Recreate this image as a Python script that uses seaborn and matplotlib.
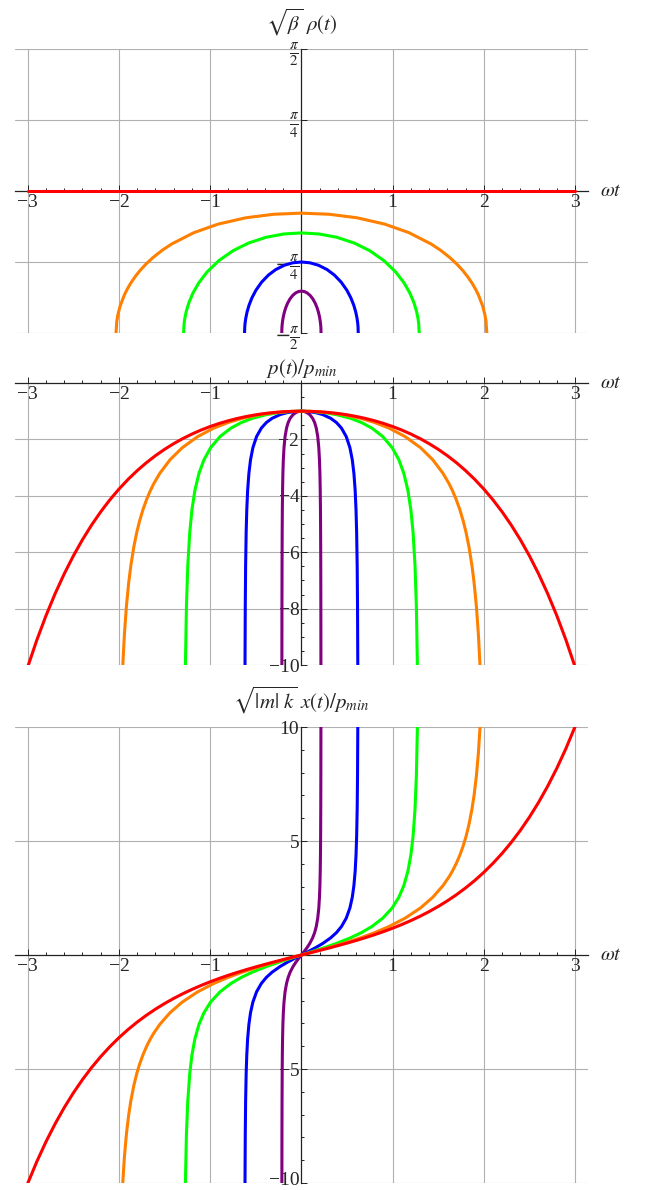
import numpy as np
import pandas as pd
import matplotlib
matplotlib.use("Agg")
import matplotlib.pyplot as plt
import matplotlib.transforms as mtransforms
from matplotlib.ticker import FixedLocator, FixedFormatter, MultipleLocator, NullLocator
import seaborn as sns

# drawing order: last one ends up on top
curves = ["purple", "blue", "green", "orange", "red"]
colors = {"purple": "#800080", "blue": "#0000ff", "green": "#00ff00",
          "orange": "#ff8000", "red": "#ff0000"}

x_ticks = [-3, -2, -1, 1, 2, 3]
x_labels = ["\u22123", "\u22122", "\u22121", "1", "2", "3"]

# right halves (t >= 0) of p(t)/p_min and sqrt(|m|k) x(t)/p_min
t_red = [0.0, 0.1, 0.2, 0.3, 0.4, 0.5, 0.6, 0.7, 0.8, 0.9, 1.0, 1.1, 1.2, 1.3, 1.4, 1.5,
         1.6, 1.7, 1.8, 1.9, 2.0, 2.1, 2.2, 2.3, 2.4, 2.5, 2.6, 2.7, 2.8, 2.9, 3.0]
p_red = [-1.0, -1.0050, -1.0201, -1.0453, -1.0811, -1.1276, -1.1855, -1.2552, -1.3374,
         -1.4331, -1.5431, -1.6685, -1.8107, -1.9709, -2.1509, -2.3524, -2.5775, -2.8283,
         -3.1075, -3.4177, -3.7622, -4.1443, -4.5679, -5.0372, -5.5569, -6.1323, -6.7690,
         -7.4735, -8.2527, -9.1146, -10.0677]
x_red = [0.0, 0.1002, 0.2013, 0.3045, 0.4108, 0.5211, 0.6367, 0.7586, 0.8881, 1.0265,
         1.1752, 1.3356, 1.5095, 1.6984, 1.9043, 2.1293, 2.3756, 2.6456, 2.9422, 3.2682,
         3.6269, 4.0219, 4.4571, 4.9370, 5.4662, 6.0502, 6.6947, 7.4063, 8.1919, 9.0595,
         10.0179]

t_orange = [0.0, 0.1422, 0.2908, 0.4540, 0.6457, 0.8027, 0.9590, 1.1361, 1.3059, 1.4398,
            1.5520, 1.6186, 1.6553, 1.6949, 1.7377, 1.7748, 1.8045, 1.8360, 1.8696,
            1.8933, 1.9182, 1.9403, 1.9593]
p_orange = [-1.0, -1.0114, -1.0483, -1.1198, -1.25, -1.4003, -1.5980, -1.8983, -2.2942,
            -2.7206, -3.2026, -3.5714, -3.8132, -4.1134, -4.5004, -4.9053, -5.2943,
            -5.7953, -6.4744, -7.0888, -7.9215, -8.9228, -10.1139]
x_orange = [0.0, 0.1517, 0.3145, 0.5039, 0.75, 0.9802, 1.2464, 1.6136, 2.0647, 2.5302,
            3.0424, 3.4286, 3.6797, 3.9900, 4.3878, 4.8023, 5.1990, 5.7084, 6.3967,
            7.0179, 7.8582, 8.8665, 10.0643]

# green, blue and purple run through one shared value ladder
p_steep = [-1.0, -1.0114, -1.0483, -1.1198, -1.25, -1.4003, -1.5980, -1.8983, -2.2942,
           -2.7206, -3.2026, -3.8132, -4.5004, -5.2943, -6.4744, -7.9215, -10.1139]
x_steep = [0.0, 0.1517, 0.3145, 0.5039, 0.75, 0.9802, 1.2464, 1.6136, 2.0647,
           2.5302, 3.0424, 3.6797, 4.3878, 5.1990, 6.3967, 7.8582, 10.0643]
t_green = [0.0, 0.1207, 0.2460, 0.3816, 0.5362, 0.6574, 0.7716, 0.8916, 0.9952,
           1.0680, 1.1226, 1.1676, 1.2000, 1.2239, 1.2454, 1.2602, 1.2720]
t_blue = [0.0, 0.0753, 0.1523, 0.2331, 0.3202, 0.3837, 0.4388, 0.4913, 0.5318,
          0.5576, 0.5755, 0.5894, 0.5988, 0.6055, 0.6114, 0.6153, 0.6183]
t_purple = [0.0, 0.0300, 0.0604, 0.0912, 0.1230, 0.1449, 0.1628, 0.1790, 0.1908,
            0.1980, 0.2029, 0.2065, 0.2090, 0.2107, 0.2122, 0.2132, 0.2140]

# right halves of sqrt(beta) rho(t)
rho_t_red = [0.0, 3.0]
rho_red = [0.0, 0.0]
rho_t_orange = [0.0, 0.3048, 0.6097, 0.9145, 1.1787, 1.4225, 1.5241, 1.6257, 1.7070,
                1.7680, 1.8188, 1.8696, 1.9102, 1.9407, 1.9875, 2.0118, 2.0240, 2.0322]
rho_orange = [-0.2450, -0.2574, -0.2963, -0.3667, -0.4608, -0.5865, -0.6544, -0.7350,
              -0.8117, -0.8786, -0.9428, -1.0174, -1.0879, -1.1502, -1.2742, -1.3699,
              -1.4435, -1.5708]
rho_t_green = [0.0, 0.1937, 0.3874, 0.5811, 0.7489, 0.9039, 1.0330, 1.1234, 1.1879,
               1.2331, 1.2628, 1.2783, 1.2861, 1.2912]
rho_green = [-0.4636, -0.4755, -0.5119, -0.5763, -0.6603, -0.7694, -0.8949, -1.0137,
             -1.1270, -1.2344, -1.3340, -1.4106, -1.4693, -1.5708]
rho_t_blue = [0.0, 0.0935, 0.1870, 0.2805, 0.3615, 0.4363, 0.4986, 0.5422, 0.5734,
              0.5952, 0.6095, 0.6170, 0.6207, 0.6232]
rho_blue = [-0.7854, -0.7942, -0.8212, -0.8686, -0.9298, -1.0085, -1.0980, -1.1820,
            -1.2616, -1.3367, -1.4061, -1.4594, -1.5003, -1.5708]
rho_t_purple = [0.0, 0.0323, 0.0646, 0.0968, 0.1248, 0.1506, 0.1722, 0.1872, 0.1980,
                0.2055, 0.2105, 0.2131, 0.2143, 0.2152]
rho_purple = [-1.1071, -1.1124, -1.1285, -1.1567, -1.1930, -1.2396, -1.2925, -1.3421,
              -1.3890, -1.4332, -1.4740, -1.5054, -1.5293, -1.5708]


def even(t, v):
    t = np.asarray(t, float)
    v = np.asarray(v, float)
    return np.r_[-t[:0:-1], t], np.r_[v[:0:-1], v]


def odd(t, v):
    t = np.asarray(t, float)
    v = np.asarray(v, float)
    return np.r_[-t[:0:-1], t], np.r_[-v[:0:-1], v]


def long_frame(times, values, mirror):
    parts = []
    for name in curves:
        tt, vv = mirror(times[name], values[name])
        parts.append(pd.DataFrame({"t": tt, "v": vv, "curve": name}))
    return pd.concat(parts, ignore_index=True)


def draw(ax, df):
    sns.lineplot(data=df, x="t", y="v", hue="curve", hue_order=curves, palette=colors,
                 sort=False, estimator=None, legend=False, linewidth=2.2, zorder=3, ax=ax)


def style(ax, ylim, yticks, ylabels, yminor, title, title_off):
    ax.set_xlim(-np.pi, np.pi)
    ax.set_ylim(*ylim)
    ax.set_xlabel("")
    ax.set_ylabel("")
    ax.spines[["top", "right"]].set_visible(False)
    for side in ("left", "bottom"):
        ax.spines[side].set_position(("data", 0))
        ax.spines[side].set_color("#222222")
        ax.spines[side].set_linewidth(0.9)
    ax.xaxis.set_major_locator(FixedLocator(x_ticks))
    ax.xaxis.set_major_formatter(FixedFormatter(x_labels))
    ax.xaxis.set_minor_locator(MultipleLocator(0.2))
    ax.yaxis.set_major_locator(FixedLocator(yticks))
    ax.yaxis.set_major_formatter(FixedFormatter(ylabels))
    ax.yaxis.set_minor_locator(MultipleLocator(yminor) if yminor else NullLocator())
    ax.tick_params(which="both", direction="in", color="#222222", width=0.7,
                   bottom=True, left=True)
    ax.tick_params(which="major", length=4.5)
    ax.tick_params(which="minor", length=2.5)
    ax.tick_params(axis="x", pad=2.5, labelsize=14)
    ax.tick_params(axis="y", pad=1.5, labelsize=14)
    ax.grid(True, which="major", color="#b0b0b0", linewidth=0.8)
    ax.text(3.27, 0, r"$\omega t$", fontsize=14.5, ha="left", va="center")
    ax.annotate(title, xy=(0.5, 1), xycoords="axes fraction", xytext=(0, title_off),
                textcoords="offset points", ha="center", va="baseline", fontsize=15)


sns.set_style("white")
plt.rcParams["font.family"] = ["Liberation Serif", "DejaVu Serif"]
plt.rcParams["mathtext.fontset"] = "stix"

t_map = {"red": t_red, "orange": t_orange, "green": t_green, "blue": t_blue,
         "purple": t_purple}
p_map = {"red": p_red, "orange": p_orange, "green": p_steep, "blue": p_steep,
         "purple": p_steep}
x_map = {"red": x_red, "orange": x_orange, "green": x_steep, "blue": x_steep,
         "purple": x_steep}
rho_t_map = {"red": rho_t_red, "orange": rho_t_orange, "green": rho_t_green,
             "blue": rho_t_blue, "purple": rho_t_purple}
rho_map = {"red": rho_red, "orange": rho_orange, "green": rho_green,
           "blue": rho_blue, "purple": rho_purple}

rho_df = long_frame(rho_t_map, rho_map, even)
p_df = long_frame(t_map, p_map, even)
x_df = long_frame(t_map, x_map, odd)

fig = plt.figure(figsize=(6.51, 11.9), dpi=100)
left, width = 14.8 / 651, 573.2 / 651
ax1 = fig.add_axes([left, 857 / 1190, width, 284 / 1190])
ax2 = fig.add_axes([left, 525 / 1190, width, 282 / 1190])
ax3 = fig.add_axes([left, 7 / 1190, width, 456 / 1190])

draw(ax1, rho_df)
style(ax1, (-np.pi / 2, np.pi / 2), [-np.pi / 2, -np.pi / 4, np.pi / 4, np.pi / 2],
      [r"$-\frac{\pi}{2}$", r"$-\frac{\pi}{4}$", r"$\frac{\pi}{4}$", r"$\frac{\pi}{2}$"],
      None, r"$\sqrt{\beta}\ \rho(t)$", 13)
for lab in ax1.get_yticklabels():
    lab.set_fontsize(15.5)

draw(ax2, p_df)
style(ax2, (-10, 0), [-10, -8, -6, -4, -2],
      ["\u221210", "\u22128", "\u22126", "\u22124", "\u22122"],
      0.5, r"$p(t)/p_{min}$", 6.5)

draw(ax3, x_df)
style(ax3, (-10, 10), [-10, -5, 5, 10], ["\u221210", "\u22125", "5", "10"],
      1, r"$\sqrt{|m|\ k}\ x(t)/p_{min}$", 13)

# the lowest label sits on the figure edge: lift it a touch so it stays whole
fig.canvas.draw()
lift = mtransforms.ScaledTranslation(0, 3 / 72, fig.dpi_scale_trans)
ax3.get_yticklabels()[0].set_transform(ax3.get_yticklabels()[0].get_transform() + lift)

fig.savefig("out.png", dpi=100, facecolor="white")
